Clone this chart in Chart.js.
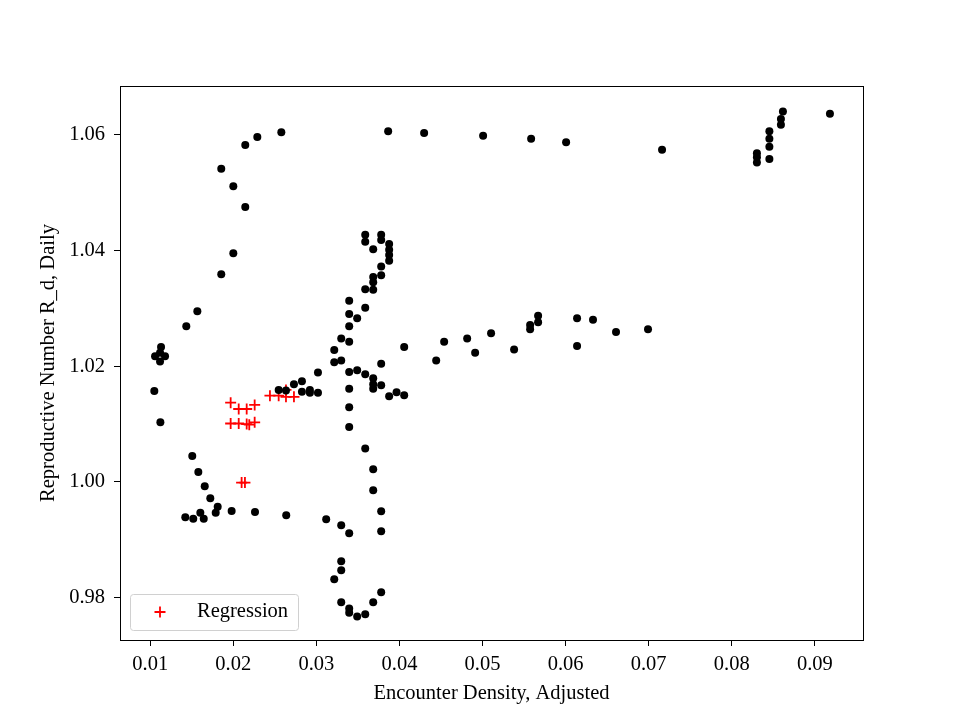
<!DOCTYPE html>
<html>
<head>
<meta charset="utf-8">
<script src="https://cdn.jsdelivr.net/npm/chart.js@4.4.1/dist/chart.umd.min.js"></script>
<style>
  body { margin: 0; background: #fff; }
  #wrap { width: 960px; height: 720px; }
</style>
</head>
<body>
<div id="wrap"><canvas id="scatter" width="960" height="720"></canvas></div>
<script>
// observed points (encounter density, daily R)
const densityX = [
  0.02578, 0.02144, 0.02289, 0.01855, 0.02000, 0.02144, 0.02000, 0.01855, 0.01567, 0.01434,
  0.01130, 0.01118, 0.01058, 0.01178, 0.01118, 0.01049, 0.01122, 0.01506, 0.01579, 0.01656,
  0.01723, 0.01812, 0.01788, 0.01603, 0.01422, 0.01518, 0.01644, 0.01980, 0.02261, 0.02637,
  0.02546, 0.02634, 0.02730, 0.02826, 0.02826, 0.02922, 0.02922, 0.03019, 0.03019, 0.03215,
  0.03215, 0.03299, 0.03299, 0.03395, 0.03395, 0.03395, 0.03395, 0.03491, 0.03588, 0.03588,
  0.03684, 0.03684, 0.03684, 0.03780, 0.03780, 0.03876, 0.03876, 0.03876, 0.03876, 0.03780,
  0.03780, 0.03684, 0.03588, 0.03588,
  0.03395, 0.03491, 0.03588, 0.03684, 0.03684, 0.03684, 0.03780, 0.03780, 0.03876, 0.03965,
  0.04057, 0.04057, 0.03395, 0.03395, 0.03395, 0.03588, 0.03684, 0.03684, 0.03780, 0.03118,
  0.03299, 0.03395, 0.03780, 0.03299, 0.03299, 0.03215, 0.03780, 0.03299, 0.03684, 0.03395,
  0.03395, 0.03491, 0.03588,
  0.04442, 0.04538, 0.04815, 0.04911, 0.05103, 0.05380, 0.05573, 0.05573, 0.05669, 0.05669,
  0.06138, 0.06138, 0.06330, 0.06607, 0.06992,
  0.03864, 0.04297, 0.05007, 0.05585, 0.06006, 0.07161, 0.08303, 0.08303, 0.08303, 0.08453,
  0.08453, 0.08453, 0.08453, 0.08592, 0.08592, 0.08616, 0.09182
];
const rdY = [
  1.0604, 1.0582, 1.0596, 1.0541, 1.0511, 1.0475, 1.0395, 1.0359, 1.0295, 1.0269,
  1.0233, 1.0223, 1.0217, 1.0217, 1.0208, 1.0157, 1.0103, 1.0045, 1.0017, 0.99926,
  0.99718, 0.99573, 0.99469, 0.99469, 0.99390, 0.99365, 0.99365, 0.99499, 0.99481, 0.99424,
  1.0159, 1.0158, 1.0169, 1.0174, 1.0156, 1.0159, 1.0154, 1.0154, 1.0189, 1.0228,
  1.0207, 1.0210, 1.0248, 1.0242, 1.0269, 1.0290, 1.0313, 1.0283, 1.0301, 1.0333,
  1.0332, 1.0345, 1.0354, 1.0357, 1.0372, 1.0382, 1.0392, 1.0401, 1.0411, 1.0427,
  1.0418, 1.0402, 1.0427, 1.0415,
  1.0190, 1.0193, 1.0186, 1.0179, 1.0169, 1.0161, 1.0167, 1.0204, 1.0148, 1.0155,
  1.0150, 1.0233, 1.0161, 1.0129, 1.0095, 1.0058, 1.0022, 0.99856, 0.99493, 0.99355,
  0.99251, 0.99113, 0.99148, 0.98629, 0.98473, 0.98318, 0.98093, 0.97920, 0.97920, 0.97816,
  0.97740, 0.97678, 0.97713,
  1.0210, 1.0242, 1.0248, 1.0223, 1.0257, 1.0229, 1.0271, 1.0264, 1.0287, 1.0276,
  1.0283, 1.0235, 1.0280, 1.0259, 1.0264,
  1.0606, 1.0603, 1.0598, 1.0593, 1.0587, 1.0574, 1.0568, 1.0561, 1.0552, 1.0606,
  1.0593, 1.0579, 1.0558, 1.0627, 1.0617, 1.0640, 1.0636
];

// regression points
const regX = [0.01968, 0.02065, 0.02161, 0.02257, 0.01968, 0.02065, 0.02161, 0.02192,
  0.02257, 0.02441, 0.02546, 0.02634, 0.02634, 0.02730, 0.02100, 0.02140];
const regY = [1.0137, 1.0126, 1.0126, 1.0133, 1.0101, 1.0101, 1.0100, 1.0099,
  1.0103, 1.0149, 1.0149, 1.0159, 1.0147, 1.0147, 0.9999, 0.9999];

const xTicks = [0.01, 0.02, 0.03, 0.04, 0.05, 0.06, 0.07, 0.08, 0.09];
const yTicks = [0.98, 1.00, 1.02, 1.04, 1.06];

const FONT = "'Liberation Serif', 'Times New Roman', serif";

const toPoints = (xs, ys) => xs.map((x, i) => ({ x: x, y: ys[i] }));

// full box around the plot area
const frame = {
  id: "frame",
  afterDraw(chart) {
    const { ctx, chartArea: a } = chart;
    ctx.save();
    ctx.strokeStyle = "#000";
    ctx.lineWidth = 1;
    ctx.strokeRect(a.left + 0.5, a.top + 0.5, a.right - a.left, a.bottom - a.top);
    ctx.restore();
  }
};

// legend drawn inside the axes, lower left
const innerLegend = {
  id: "innerLegend",
  afterDraw(chart) {
    const { ctx, chartArea: a } = chart;
    const ds = chart.data.datasets[1];
    const x = a.left + 10, y = a.bottom - 46, w = 168, h = 36;
    ctx.save();
    ctx.fillStyle = "rgba(255,255,255,0.8)";
    ctx.strokeStyle = "#d0d0d0";
    ctx.lineWidth = 1;
    ctx.beginPath();
    ctx.roundRect(x + 0.5, y + 0.5, w, h, 3);
    ctx.fill();
    ctx.stroke();
    ctx.strokeStyle = "red";
    ctx.lineWidth = 1.8;
    const cx = x + 30, cy = y + h / 2;
    ctx.beginPath();
    ctx.moveTo(cx - 5.5, cy); ctx.lineTo(cx + 5.5, cy);
    ctx.moveTo(cx, cy - 5.5); ctx.lineTo(cx, cy + 5.5);
    ctx.stroke();
    ctx.fillStyle = "#000";
    ctx.font = "20.5px " + FONT;
    ctx.textBaseline = "middle";
    ctx.fillText(ds.label, x + 67, cy);
    ctx.restore();
  }
};

new Chart(document.getElementById("scatter").getContext("2d"), {
  type: "scatter",
  data: {
    datasets: [
      {
        label: "Observed",
        data: toPoints(densityX, rdY),
        backgroundColor: "#000",
        borderColor: "#000",
        pointRadius: 4,
        pointHoverRadius: 4,
        borderWidth: 0
      },
      {
        label: "Regression",
        data: toPoints(regX, regY),
        pointStyle: "cross",
        borderColor: "red",
        backgroundColor: "red",
        pointRadius: 5.5,
        pointHoverRadius: 5.5,
        borderWidth: 1.8
      }
    ]
  },
  options: {
    responsive: false,
    animation: false,
    events: [],
    layout: { padding: { left: 0, top: 86, right: 97, bottom: 0 } },
    plugins: {
      legend: { display: false },
      tooltip: { enabled: false }
    },
    scales: {
      x: {
        type: "linear",
        min: 0.00636,
        max: 0.0958,
        afterBuildTicks: (s) => { s.ticks = xTicks.map((v) => ({ value: v })); },
        afterFit: (s) => { s.height = 80; },
        grid: { drawOnChartArea: false, drawTicks: true, tickLength: 6, color: "#000" },
        border: { display: false },
        ticks: {
          color: "#000",
          font: { family: FONT, size: 20.5 },
          padding: 6,
          maxRotation: 0,
          callback: (v) => v.toFixed(2)
        },
        title: {
          display: true,
          text: "Encounter Density, Adjusted",
          color: "#000",
          font: { family: FONT, size: 20.5 },
          padding: { top: 0, bottom: 14 }
        }
      },
      y: {
        type: "linear",
        min: 0.9727,
        max: 1.0684,
        afterBuildTicks: (s) => { s.ticks = yTicks.map((v) => ({ value: v })); },
        afterFit: (s) => { s.width = 120; },
        grid: { drawOnChartArea: false, drawTicks: true, tickLength: 6, color: "#000" },
        border: { display: false },
        ticks: {
          color: "#000",
          font: { family: FONT, size: 20.5 },
          padding: 9,
          callback: (v) => v.toFixed(2)
        },
        title: {
          display: true,
          text: "Reproductive Number R_d, Daily",
          color: "#000",
          font: { family: FONT, size: 20.5 },
          padding: { top: 36, bottom: 0 }
        }
      }
    }
  },
  plugins: [frame, innerLegend]
});
</script>
</body>
</html>
